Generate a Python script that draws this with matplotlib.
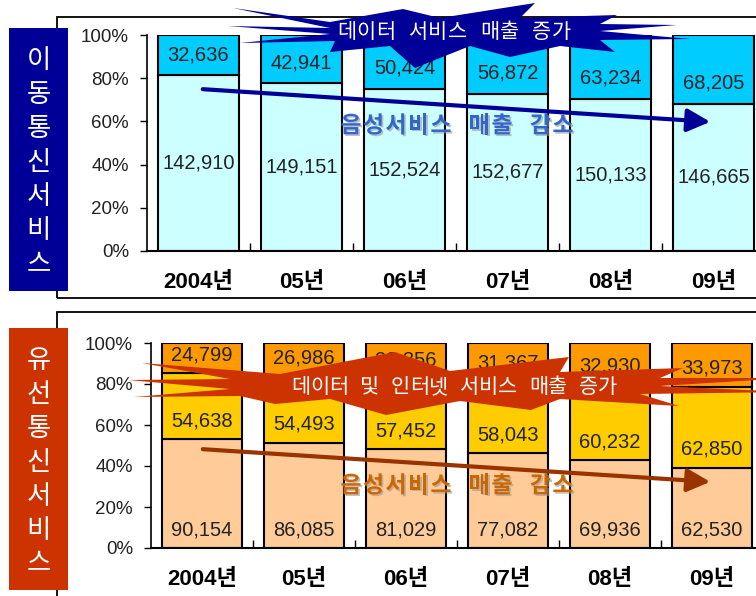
import matplotlib
matplotlib.use("Agg")
import matplotlib.pyplot as plt
from matplotlib.patches import Rectangle, Polygon, FancyArrowPatch
import matplotlib.patheffects as pe
import numpy as np

# ---------------- data ----------------
years = ["2004년", "05년", "06년", "07년", "08년", "09년"]
mobile_voice = [142910, 149151, 152524, 152677, 150133, 146665]
mobile_data = [32636, 42941, 50424, 56872, 63234, 68205]
wired_voice = [90154, 86085, 81029, 77082, 69936, 62530]
wired_mid = [54638, 54493, 57452, 58043, 60232, 62850]
wired_top = [24799, 26986, 29356, 31367, 32930, 33973]
pct_ticks = [0, 20, 40, 60, 80, 100]
top_title = "이동통신서비스"
bottom_title = "유선통신서비스"
top_banner = "데이터 서비스 매출 증가"
bottom_banner = "데이터 및 인터넷 서비스 매출 증가"
voice_text = "음성서비스 매출 감소"

W, H = 756, 596
fig = plt.figure(figsize=(W / 100, H / 100), dpi=100)
fig.patch.set_facecolor("white")

NUM_FONT = ["Liberation Sans", "Noto Sans CJK KR"]
KR_FONT = ["Noto Sans CJK KR", "DejaVu Sans"]


def P(x, y):
    return (x / W, 1 - y / H)


def ax_rect(l, r, t, b):
    return [l / W, 1 - b / H, (r - l) / W, (b - t) / H]


def spaced_text(cx, cy, text, adv, gap, **kw):
    n_chars = sum(1 for c in text if c != " ")
    n_gaps = text.count(" ")
    total = n_chars * adv + n_gaps * gap
    xcur = cx - total / 2
    for c in text:
        if c == " ":
            xcur += gap
            continue
        fig.text(*P(xcur + adv / 2, cy), c, ha="center", va="center", **kw)
        xcur += adv


# panel outlines
fig.patches.append(Rectangle(P(57, 298), 800 / W, (298 - 17) / H, transform=fig.transFigure,
                             fill=False, edgecolor="black", lw=1.3, zorder=-2))
fig.patches.append(Rectangle(P(57, 640), 800 / W, (640 - 312) / H, transform=fig.transFigure,
                             fill=False, edgecolor="black", lw=1.3, zorder=-2))

# left label boxes
for (y0, y1, col, txt) in [(28, 291, "#000099", top_title), (328, 590, "#CC3300", bottom_title)]:
    fig.patches.append(Rectangle(P(9, y1), 59 / W, (y1 - y0) / H, transform=fig.transFigure,
                                 facecolor=col, edgecolor="none", zorder=1))
    n = len(txt)
    step = 34
    first = (y0 + y1) / 2 + 3 - step * (n - 1) / 2
    for i, ch in enumerate(txt):
        fig.text(*P(38.5, first + step * i), ch, color="white", fontsize=19,
                 ha="center", va="center", family=KR_FONT, zorder=2)


def setup_axes(ax):
    ax.set_facecolor("none")
    for s in ["top", "right"]:
        ax.spines[s].set_visible(False)
    ax.spines["left"].set_linewidth(1.2)
    ax.spines["bottom"].set_linewidth(1.5)
    ax.set_ylim(0, 1)
    ax.set_xlim(-0.5, 5.5)
    ax.set_yticks([p / 100 for p in pct_ticks])
    ax.set_yticklabels([f"{p}%" for p in pct_ticks], fontsize=13.5, family=NUM_FONT, color="#222222")
    ax.tick_params(axis="y", direction="out", length=5, pad=8, width=1)
    ax.set_xticks(np.arange(len(years)))
    ax.set_xticklabels(years, fontsize=16, fontweight="bold", family=NUM_FONT)
    ax.tick_params(axis="x", length=0, pad=15)
    ax.set_xticks(np.arange(len(years) - 1) + 0.5, minor=True)
    ax.tick_params(axis="x", which="minor", direction="in", length=6, width=1)


x = np.arange(len(years))
bw = 0.79

# ---------------- top (mobile) ----------------
ax1 = fig.add_axes(ax_rect(147, 147 + 6 * 103, 35, 251))
setup_axes(ax1)
mv = np.array(mobile_voice, float)
md = np.array(mobile_data, float)
tot = mv + md
fv, fd = mv / tot, md / tot
ax1.bar(x, fv, bw, color="#CCFFFF", edgecolor="black", lw=1.5, zorder=2)
ax1.bar(x, fd, bw, bottom=fv, color="#00CCFF", edgecolor="black", lw=1.5, zorder=2)
for i in range(len(x)):
    ax1.text(x[i], fv[i] / 2, f"{mobile_voice[i]:,}", ha="center", va="center",
             fontsize=14.5, family=NUM_FONT, color="#222222", zorder=3)
    ax1.text(x[i], fv[i] + 0.095, f"{mobile_data[i]:,}", ha="center", va="center",
             fontsize=14.5, family=NUM_FONT, color="#222222", zorder=3)

# ---------------- bottom (wired) ----------------
ax2 = fig.add_axes(ax_rect(151, 151 + 6 * 102, 343, 548))
setup_axes(ax2)
wv = np.array(wired_voice, float)
wm = np.array(wired_mid, float)
wt = np.array(wired_top, float)
tot2 = wv + wm + wt
f1, f2, f3 = wv / tot2, wm / tot2, wt / tot2
ax2.bar(x, f1, bw, color="#FFCC99", edgecolor="black", lw=1.5, zorder=2)
ax2.bar(x, f2, bw, bottom=f1, color="#FFCC00", edgecolor="black", lw=1.5, zorder=2)
ax2.bar(x, f3, bw, bottom=f1 + f2, color="#FF9900", edgecolor="black", lw=1.5, zorder=2)
for i in range(len(x)):
    for val, b in [(wired_voice[i], 0), (wired_mid[i], f1[i]), (wired_top[i], f1[i] + f2[i])]:
        ax2.text(x[i], b + 0.09, f"{val:,}", ha="center", va="center",
                 fontsize=14.5, family=NUM_FONT, color="#222222", zorder=3)

# ---------------- arrows + text ----------------
for (p0, p1, col, tcol, ty) in [((200, 89), (713, 122), "#000099", "#3366CC", 126),
                                ((200, 449), (713, 482), "#993300", "#CC6600", 486)]:
    fig.add_artist(FancyArrowPatch(
        P(*p0), P(*p1), transform=fig.transFigure, arrowstyle="-|>,head_length=14,head_width=7",
        mutation_scale=1, lw=3, color=col, zorder=6))
    spaced_text(457, ty, voice_text, 22.5, 16, color=tcol, fontsize=16.5, fontweight="bold",
                family=KR_FONT, zorder=7,
                path_effects=[pe.withSimplePatchShadow(offset=(1.2, -1.2), shadow_rgbFace="#999999", alpha=0.6)])

# ---------------- banners ----------------
top_poly = [(233, 8), (330, 22), (403, 9), (440, 18), (535, 3), (520, 18), (617, 15), (600, 24),
            (677, 25), (600, 31), (690, 39), (600, 40), (615, 52), (560, 46), (510, 57), (470, 46),
            (415, 68), (390, 46), (330, 52), (335, 41), (240, 43), (330, 34), (228, 26), (330, 28)]
bot_poly = [(142, 363), (280, 374), (395, 352), (450, 371), (569, 357), (560, 372), (683, 368),
            (660, 378), (790, 378), (660, 386), (790, 392), (640, 394), (679, 406), (560, 399),
            (531, 410), (460, 401), (386, 415), (330, 399), (275, 404), (240, 396), (134, 397),
            (230, 389), (128, 380), (230, 379)]
for poly, col in [(top_poly, "#000099"), (bot_poly, "#CC3300")]:
    fig.patches.append(Polygon([P(*p) for p in poly], closed=True, transform=fig.transFigure,
                               facecolor=col, edgecolor="none", zorder=8))
spaced_text(454, 32, top_banner, 19.5, 13, color="white", fontsize=15, family=KR_FONT, zorder=9)
spaced_text(454, 387, bottom_banner, 19, 12, color="white", fontsize=15, family=KR_FONT, zorder=9)

fig.savefig("out.png", dpi=100)
